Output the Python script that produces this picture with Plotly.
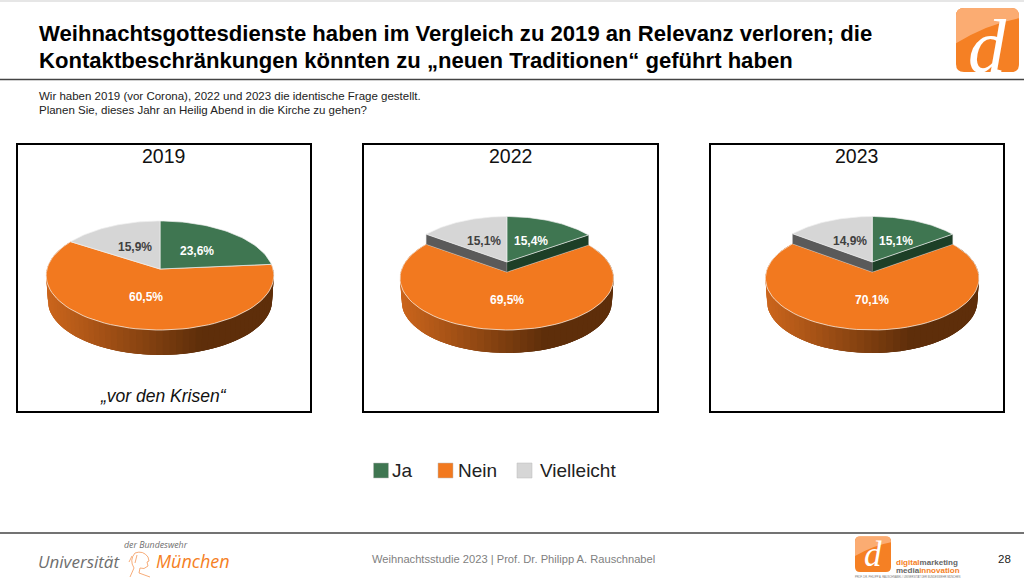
import math
import plotly.graph_objects as go

# ---- data ----
years = ["2019", "2022", "2023"]
categories = ["Ja", "Nein", "Vielleicht"]
values_2019 = [23.6, 60.5, 15.9]
values_2022 = [15.4, 69.5, 15.1]
values_2023 = [15.1, 70.1, 14.9]

title_lines = ["Weihnachtsgottesdienste haben im Vergleich zu 2019 an Relevanz verloren; die",
               "Kontaktbeschränkungen könnten zu „neuen Traditionen“ geführt haben"]
intro_lines = ["Wir haben 2019 (vor Corona), 2022 und 2023 die identische Frage gestellt.",
               "Planen Sie, dieses Jahr an Heilig Abend in die Kirche zu gehen?"]

# ---- styles / layout ----
COL = {"Ja": "#3F7651", "Nein": "#F2791F", "Vielleicht": "#D6D6D6"}
WALL = {"Ja": "#1D3F27", "Vielleicht": "#5A5A5A"}
FONT = "Liberation Sans"
# geometry: box(left,right), apex(x,y), radius, back, front, raise, depth
PIES = [
    dict(vals=values_2019, box=(17, 311), cx=160, ay=269, R=113, back=48, front=61, lift=0, depth=25),
    dict(vals=values_2022, box=(363, 658), cx=506.8, ay=272, R=106, back=45.5, front=58, lift=10, depth=23),
    dict(vals=values_2023, box=(710, 1004), cx=872.2, ay=272, R=106, back=45.5, front=58, lift=10, depth=23),
]

fig = go.Figure()
ann = []
shapes = []


def add_text(x, y, text, size, color="#000000", anchor="center", bold=False, italic=False, family=FONT):
    t = text
    if bold:
        t = "<b>" + t + "</b>"
    if italic:
        t = "<i>" + t + "</i>"
    ann.append(dict(x=x, y=y, xref="x", yref="y", text=t, showarrow=False, xanchor=anchor, yanchor="middle",
                    borderpad=0, font=dict(size=size, color=color, family=family)))


def poly(xs, ys, fill, line=None, lw=0.0):
    fig.add_trace(go.Scatter(x=xs + xs[:1], y=ys + ys[:1], mode="lines", fill="toself", fillcolor=fill,
                             line=dict(color=line or fill, width=lw), hoverinfo="skip", showlegend=False))


def mix(a, b, f):
    ca = [int(a[i:i + 2], 16) for i in (1, 3, 5)]
    cb = [int(b[i:i + 2], 16) for i in (1, 3, 5)]
    return "#%02x%02x%02x" % tuple(round(p + (q - p) * f) for p, q in zip(ca, cb))


def draw_pie(p):
    c = (p["front"] - p["back"]) / (p["front"] + p["back"])
    a = p["back"] * (1 + c)

    def proj(share, r=1.0, lift=0.0, sx=1.0):
        t = 2 * math.pi * share
        u, v = r * math.sin(t), r * math.cos(t)
        d = 1 + c * v
        return p["cx"] + sx * p["R"] * u / d, p["ay"] - a * v / d - lift

    total = sum(p["vals"])
    shares = [v / total for v in p["vals"]]
    s0, s1 = 0.0, shares[0]
    s2 = s1 + shares[1]
    left, width = p["cx"] - p["R"], 2 * p["R"]

    # side wall of the front slice: overlapping strips, so no seams show between them
    n = 72
    steps = [s1 + (s2 - s1) * i / n for i in range(n + 1)]
    for i in range(n):
        j = min(n, i + 3)
        top = [proj(steps[k]) for k in range(i, j + 1)]
        bot = [proj(steps[k], sx=0.985) for k in range(j, i - 1, -1)]
        mx = proj((steps[i] + steps[i + 1]) / 2)[0]
        f = min(1.0, max(0.0, (mx - left) / (width * 0.68)))
        col = mix("#CB651C", "#5E2E0A", f)
        poly([q[0] for q in top] + [q[0] for q in bot],
             [q[1] for q in top] + [q[1] + p["depth"] for q in bot], col)

    # front slice
    xs, ys = [p["cx"]], [p["ay"]]
    for s in steps:
        x, y = proj(s)
        xs.append(x)
        ys.append(y)
    poly(xs, ys, COL["Nein"], line="#F6E6D8", lw=0.8)

    # back slices
    for name, a0, a1 in (("Ja", s0, s1), ("Vielleicht", s2, 1.0)):
        L = p["lift"]
        edge = a1 if name == "Ja" else a0
        if L:
            ox, oy = proj(edge)
            poly([p["cx"], ox, ox, p["cx"]], [p["ay"] - L, oy - L, oy, p["ay"]], WALL[name], line="#8A8A8A", lw=0.3)
        xs, ys = [p["cx"]], [p["ay"] - L]
        for i in range(41):
            x, y = proj(a0 + (a1 - a0) * i / 40, lift=L)
            xs.append(x)
            ys.append(y)
        poly(xs, ys, COL[name], line="#EFEFEF", lw=0.7)

    # value labels
    start = 0.0
    for name, sh, v in zip(categories, shares, p["vals"]):
        mid = start + sh / 2
        lift = p["lift"] if name != "Nein" else 0
        x, y = proj(mid, r=0.5, lift=lift)
        txt = f"{v:.1f}".replace(".", ",") + "%"
        add_text(x + 0.5, y + 0.5, txt, 12, "#404040" if name == "Vielleicht" else "#FFFFFF", bold=True)
        start += sh


for yr, p in zip(years, PIES):
    l, r = p["box"]
    shapes.append(dict(type="rect", xref="x", yref="y", x0=l, x1=r, y0=144, y1=412,
                       line=dict(color="#000000", width=2), fillcolor="rgba(0,0,0,0)"))
    add_text((l + r) / 2 - 0.5, 156, yr, 19.5, "#111111")
    draw_pie(p)
add_text(163.5, 396, "„vor den Krisen“", 17.5, "#111111", italic=True)

# legend
for name, sx, tx in zip(categories, (381, 445.5, 524.5), (390.5, 457, 538.5)):
    fig.add_trace(go.Scatter(x=[sx], y=[470.5], mode="markers", name=name, showlegend=False, hoverinfo="skip",
                             marker=dict(symbol="square", size=15, color=COL[name], line=dict(color="#BBBBBB", width=0.5))))
    add_text(tx, 470.5, name, 19, "#222222", anchor="left")

# header
shapes.append(dict(type="rect", xref="x", yref="y", x0=0, x1=1024, y0=0, y1=2, line_width=0, fillcolor="#E6E6E6"))
shapes.append(dict(type="line", xref="x", yref="y", x0=0, x1=1024, y0=79.5, y1=79.5, line=dict(color="#444444", width=1.3)))
add_text(38, 33, title_lines[0], 22.1, bold=True, anchor="left")
add_text(38, 60, title_lines[1], 22.1, bold=True, anchor="left")
add_text(38, 96, intro_lines[0], 11.5, "#222222", anchor="left")
add_text(38, 110, intro_lines[1], 11.5, "#222222", anchor="left")


def rounded(x0, y0, x1, y1, r):
    return (f"M{x0 + r},{y0} L{x1 - r},{y0} Q{x1},{y0} {x1},{y0 + r} L{x1},{y1 - r} Q{x1},{y1} {x1 - r},{y1} "
            f"L{x0 + r},{y1} Q{x0},{y1} {x0},{y1 - r} L{x0},{y0 + r} Q{x0},{y0} {x0 + r},{y0} Z")


def logo(x0, y0, x1, y1, r, dsize, dy):
    w, h = x1 - x0, y1 - y0
    shapes.append(dict(type="path", xref="x", yref="y", path=rounded(x0, y0, x1, y1, r), fillcolor="#F58024", line_width=0))
    gloss = (f"M{x0 + r},{y0} L{x1 - r},{y0} Q{x1},{y0} {x1},{y0 + r} L{x1},{y0 + 0.16 * h} "
             f"Q{x0 + 0.5 * w},{y0 + 0.25 * h} {x0},{y0 + 0.55 * h} L{x0},{y0 + r} Q{x0},{y0} {x0 + r},{y0} Z")
    shapes.append(dict(type="path", xref="x", yref="y", path=gloss, fillcolor="#FBAC72", line_width=0))
    add_text(x0 + 0.5 * w, y0 + dy, "d", dsize, "#FFFFFF", italic=True, family="Liberation Serif")


logo(956, 8, 1019, 72, 8, 76, 38.4)

# footer
shapes.append(dict(type="line", xref="x", yref="y", x0=0, x1=1024, y0=533, y1=533, line=dict(color="#444444", width=1.3)))
add_text(513.5, 559, "Weihnachtsstudie 2023 | Prof. Dr. Philipp A. Rauschnabel", 11.15, "#7F7F7F")
add_text(1004.5, 558.5, "28", 11.5, "#222222")
add_text(37, 561, "Universität", 17, "#6E6E6E", anchor="left", italic=True, family="Open Sans")
add_text(155, 561, "München", 18, "#F58024", anchor="left", italic=True, family="Open Sans")
add_text(123, 545, "der Bundeswehr", 8.8, "#6E6E6E", anchor="left", italic=True, family="Open Sans")
shapes.append(dict(type="path", xref="x", yref="y", line=dict(color="#F5A36A", width=0.9),
                   path="M135,553 Q143,550 148,557 L149,561 L147,562 L148,566 Q144,570 140,568 L139,573 L150,577 "
                        "M130,577 L134,568 Q129,560 135,553 M132,556 L129,562 M137,555 L135,563"))
logo(855, 536.5, 891, 572, 5, 35, 18)
ann.append(dict(x=895, y=562, xref="x", yref="y", showarrow=False, xanchor="left", yanchor="middle", borderpad=0,
                text="<b><span style='color:#F58024'>digital</span><span style='color:#666666'>marketing</span></b>",
                font=dict(size=8, family=FONT)))
ann.append(dict(x=895, y=570, xref="x", yref="y", showarrow=False, xanchor="left", yanchor="middle", borderpad=0,
                text="<b><span style='color:#666666'>media</span><span style='color:#F58024'>innovation</span></b>",
                font=dict(size=8, family=FONT)))
add_text(853.5, 576.5, "PROF. DR. PHILIPP A. RAUSCHNABEL | UNIVERSITÄT DER BUNDESWEHR MÜNCHEN", 2.6, "#777777", anchor="left")

fig.update_layout(
    width=1024, height=578, margin=dict(l=0, r=0, t=0, b=0), autosize=False,
    paper_bgcolor="#FFFFFF", plot_bgcolor="#FFFFFF", showlegend=False,
    xaxis=dict(range=[0, 1024], visible=False, fixedrange=True),
    yaxis=dict(range=[578, 0], visible=False, fixedrange=True),
    annotations=ann, shapes=shapes,
)
fig.write_html("out.html", config=dict(displayModeBar=False),
               post_script="document.body.style.margin='0';document.body.style.overflow='hidden';")
